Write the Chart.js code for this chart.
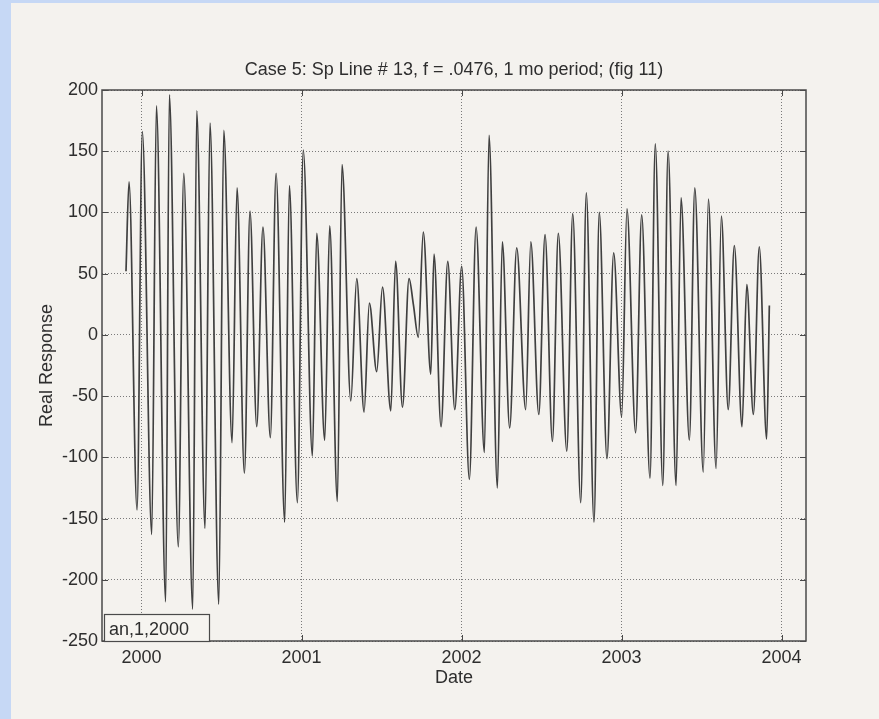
<!DOCTYPE html>
<html>
<head>
<meta charset="utf-8">
<title>Case 5: Sp Line # 13</title>
<script src="https://cdn.jsdelivr.net/npm/chart.js@4.4.1/dist/chart.umd.min.js"></script>
<style>
  html, body { margin: 0; padding: 0; }
  #page {
    width: 879px;
    height: 719px;
    background: #f4f2ee;
    box-shadow: inset 11px 3px 0 #c6d8f5;
  }
  canvas { display: block; }
</style>
</head>
<body>
<div id="page">
  <canvas id="js--chart" width="879" height="719"></canvas>
</div>
<script>
// turning points of the response, date as decimal year
const sampleYears = [
    1999.903, 1999.922, 1999.972, 2000.005, 2000.064, 2000.093, 2000.151, 2000.174,
    2000.230, 2000.264, 2000.320, 2000.345, 2000.397, 2000.428, 2000.483, 2000.514,
    2000.566, 2000.597, 2000.643, 2000.678, 2000.720, 2000.759, 2000.805, 2000.841,
    2000.895, 2000.924, 2000.974, 2001.011, 2001.068, 2001.095, 2001.145, 2001.176,
    2001.224, 2001.253, 2001.308, 2001.345, 2001.391, 2001.424, 2001.470, 2001.506,
    2001.558, 2001.588, 2001.631, 2001.672, 2001.699, 2001.730, 2001.761, 2001.808,
    2001.828, 2001.872, 2001.914, 2001.958, 2002.001, 2002.049, 2002.091, 2002.143,
    2002.172, 2002.224, 2002.255, 2002.301, 2002.345, 2002.401, 2002.433, 2002.483,
    2002.522, 2002.568, 2002.605, 2002.658, 2002.695, 2002.745, 2002.780, 2002.828,
    2002.861, 2002.909, 2002.951, 2003.001, 2003.034, 2003.088, 2003.126, 2003.178,
    2003.211, 2003.258, 2003.291, 2003.341, 2003.372, 2003.424, 2003.458, 2003.511,
    2003.543, 2003.591, 2003.624, 2003.667, 2003.705, 2003.753, 2003.783, 2003.824,
    2003.861, 2003.907, 2003.924
]
const realResponse = [
    52, 125, -143, 166, -163, 187, -218, 196,
    -173, 132, -224, 183, -158, 173, -220, 167,
    -88, 120, -113, 101, -75, 88, -84, 132,
    -153, 122, -137, 151, -99, 83, -86, 89,
    -136, 139, -54, 46, -63, 26, -30, 39,
    -62, 60, -59, 46, 25, -2, 84, -32,
    66, -75, 60, -61, 56, -118, 88, -96,
    163, -125, 76, -76, 71, -61, 76, -65,
    82, -87, 83, -95, 99, -137, 116, -153,
    100, -101, 67, -67, 103, -80, 98, -117,
    156, -123, 150, -123, 112, -86, 120, -112,
    111, -109, 97, -61, 73, -75, 41, -65,
    72, -85, 24
]

const xTicks = [2000, 2001, 2002, 2003, 2004]
const yTicks = [200, 150, 100, 50, 0, -50, -100, -150, -200, -250]

const FONT = "'Liberation Sans', Arial, sans-serif"
const INK = '#2e2e2e'
const AXIS = '#4a4a4a'

Chart.defaults.font.family = FONT
Chart.defaults.font.size = 18
Chart.defaults.color = INK

// box round the axes, small inward ticks and the start-date label
const frame = {
    id: 'frame',
    afterDatasetsDraw(chart) {
        const ctx = chart.ctx
        const a = chart.chartArea
        const xs = chart.scales.x
        const ys = chart.scales.y
        ctx.save()
        ctx.strokeStyle = AXIS
        ctx.lineWidth = 1.5
        ctx.strokeRect(a.left, a.top, a.right - a.left, a.bottom - a.top)

        ctx.lineWidth = 1
        ctx.beginPath()
        xTicks.forEach(t => {
            const px = Math.round(xs.getPixelForValue(t)) + 0.5
            ctx.moveTo(px, a.bottom); ctx.lineTo(px, a.bottom - 6)
            ctx.moveTo(px, a.top); ctx.lineTo(px, a.top + 6)
        })
        yTicks.forEach(t => {
            const py = Math.round(ys.getPixelForValue(t)) + 0.5
            ctx.moveTo(a.left, py); ctx.lineTo(a.left + 6, py)
            ctx.moveTo(a.right, py); ctx.lineTo(a.right - 6, py)
        })
        ctx.stroke()

        // date tag in the lower left corner
        const bx = a.left + 2, bw = 105, bh = 27
        const by = a.bottom - bh
        ctx.fillStyle = '#f6f4f0'
        ctx.fillRect(bx, by, bw, bh)
        ctx.strokeStyle = AXIS
        ctx.lineWidth = 1.2
        ctx.strokeRect(bx + 0.5, by + 0.5, bw, bh)
        ctx.fillStyle = INK
        ctx.font = '18px ' + FONT
        ctx.textBaseline = 'alphabetic'
        ctx.fillText('an,1,2000', bx + 5, by + 21)
        ctx.restore()
    }
}

const data = {
    datasets: [{
        label: 'Real Response',
        data: sampleYears.map((yr, i) => ({ x: yr, y: realResponse[i] })),
        borderColor: '#404040',
        borderWidth: 1.7,
        pointRadius: 0,
        cubicInterpolationMode: 'monotone',
        fill: false
    }]
}

const config = {
    type: 'line',
    data: data,
    plugins: [frame],
    options: {
        responsive: false,
        animation: false,
        layout: { padding: { left: 12, top: 40, right: 73, bottom: 20 } },
        plugins: {
            legend: { display: false },
            tooltip: { enabled: false },
            title: {
                display: true,
                text: 'Case 5: Sp Line # 13, f = .0476, 1 mo period; (fig 11)',
                color: INK,
                fullSize: false,
                font: { size: 18, weight: 'normal' },
                padding: { top: 19.2, bottom: 9.2 }
            }
        },
        scales: {
            x: {
                type: 'linear',
                min: 1999.753,
                max: 2004.153,
                afterBuildTicks: scale => { scale.ticks = xTicks.map(v => ({ value: v })) },
                afterFit: scale => { scale.height = 58 },
                ticks: { padding: 6, maxRotation: 0, callback: v => String(v) },
                grid: { color: '#7a7a7a', lineWidth: 1, drawTicks: false },
                border: { display: false, dash: [1, 2] },
                title: { display: true, text: 'Date', font: { size: 18 }, padding: { top: 0, bottom: 10.2 } }
            },
            y: {
                type: 'linear',
                min: -250,
                max: 200,
                afterBuildTicks: scale => { scale.ticks = yTicks.map(v => ({ value: v })) },
                afterFit: scale => { scale.width = 90 },
                ticks: { padding: 4, callback: v => String(v) },
                grid: { color: '#7a7a7a', lineWidth: 1, drawTicks: false },
                border: { display: false, dash: [1, 2] },
                title: { display: true, text: 'Real Response', font: { size: 18 }, padding: { top: 24.2, bottom: 0 } }
            }
        }
    }
}

new Chart(document.getElementById('js--chart'), config)
</script>
</body>
</html>
